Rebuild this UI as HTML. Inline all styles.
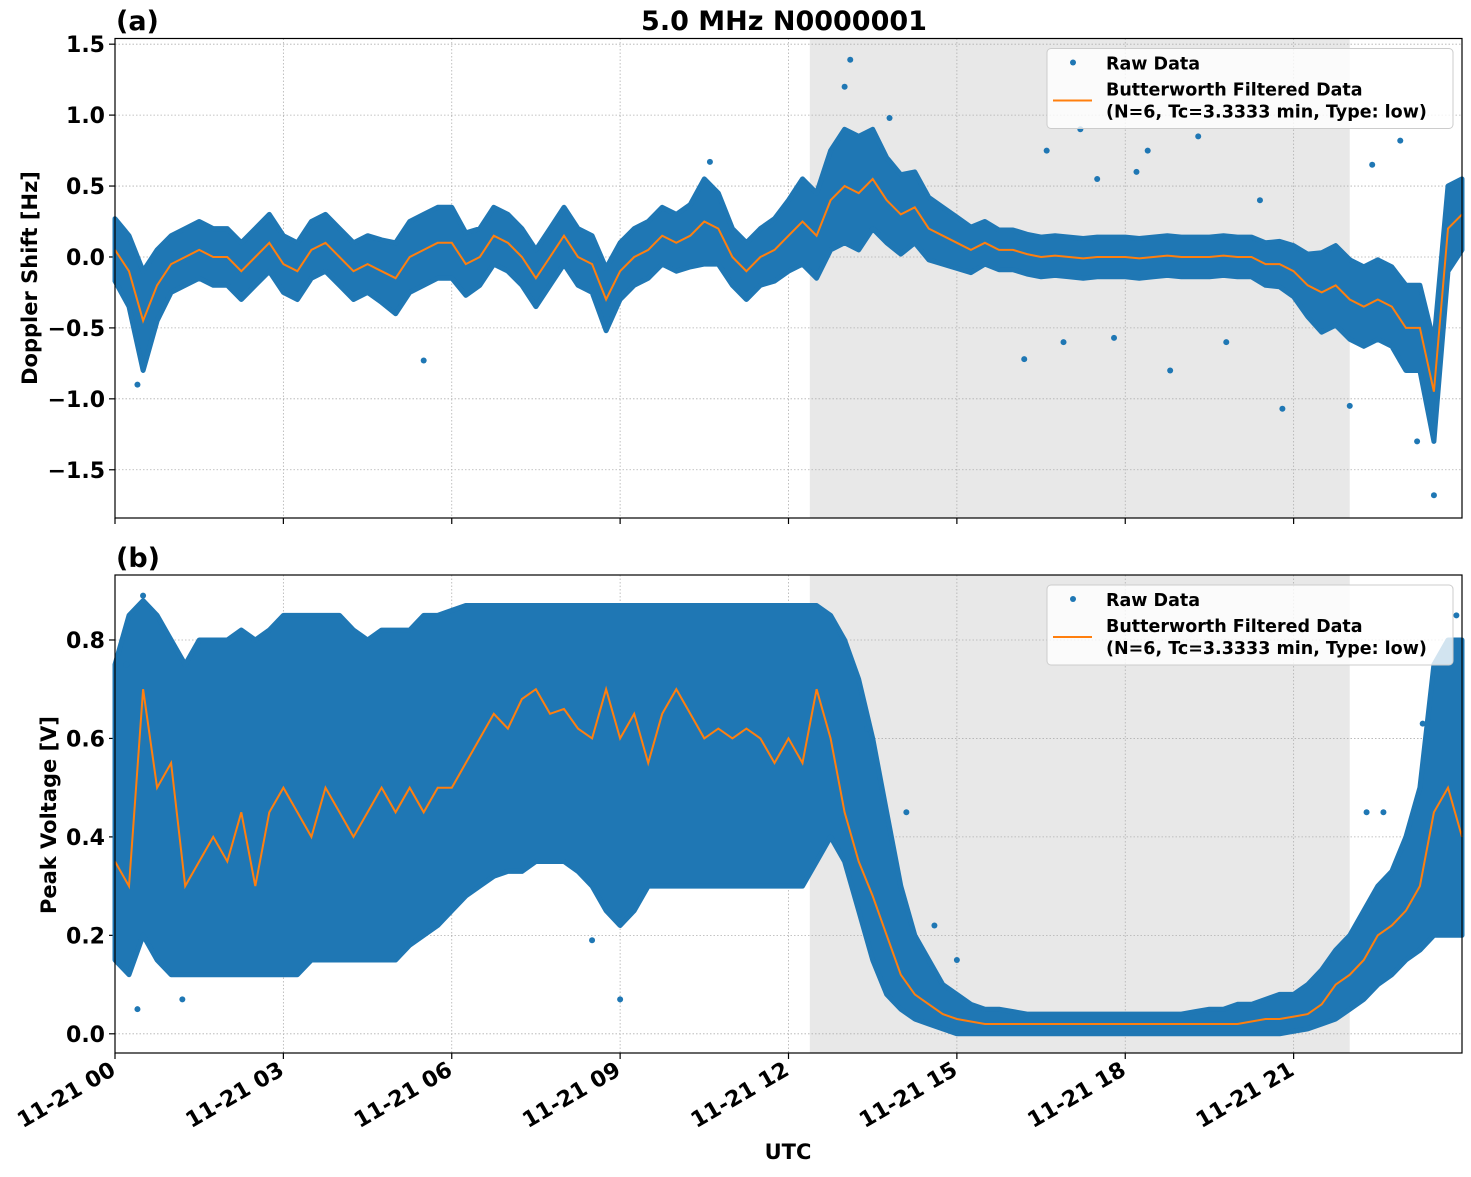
<!DOCTYPE html>
<html><head><meta charset="utf-8">
<style>
body{margin:0;background:#fff;}
svg text{font-family:"DejaVu Sans","Liberation Sans",sans-serif;font-weight:bold;}
</style></head>
<body>
<svg id="chart" width="1471" height="1172" viewBox="0 0 1471 1172" xmlns="http://www.w3.org/2000/svg">
<rect width="1471" height="1172" fill="#fff"/>
</svg>
<script>
// ---- data ----
const xTickHours = [0,3,6,9,12,15,18,21];
const xTickLabels = ["11-21 00","11-21 03","11-21 06","11-21 09","11-21 12","11-21 15","11-21 18","11-21 21"];
const shadeHours = [12.38, 22.0];
const topYTicks = [-1.5,-1.0,-0.5,0.0,0.5,1.0,1.5];
const topYLabels = ["\u22121.5","\u22121.0","\u22120.5","0.0","0.5","1.0","1.5"];
const botYTicks = [0.0,0.2,0.4,0.6,0.8];
const botYLabels = ["0.0","0.2","0.4","0.6","0.8"];
// samples every 0.25 h from 0 to 24
const topFiltered = [0.05,-0.1,-0.45,-0.2,-0.05,0.0,0.05,0.0,0.0,-0.1,0.0,0.1,-0.05,-0.1,0.05,0.1,0.0,-0.1,-0.05,-0.1,-0.15,0.0,0.05,0.1,0.1,-0.05,0.0,0.15,0.1,0.0,-0.15,0.0,0.15,0.0,-0.05,-0.3,-0.1,0.0,0.05,0.15,0.1,0.15,0.25,0.2,0.0,-0.1,0.0,0.05,0.15,0.25,0.15,0.4,0.5,0.45,0.55,0.4,0.3,0.35,0.2,0.15,0.1,0.05,0.1,0.05,0.05,0.02,0.0,0.01,0.0,-0.01,0.0,0.0,0.0,-0.01,0.0,0.01,0.0,0.0,0.0,0.01,0.0,0.0,-0.05,-0.05,-0.1,-0.2,-0.25,-0.2,-0.3,-0.35,-0.3,-0.35,-0.5,-0.5,-0.95,0.2,0.3];
const topSpread = [0.22,0.25,0.35,0.25,0.2,0.2,0.2,0.2,0.2,0.2,0.2,0.2,0.2,0.2,0.2,0.2,0.2,0.2,0.2,0.22,0.25,0.25,0.25,0.25,0.25,0.22,0.2,0.2,0.2,0.2,0.2,0.2,0.2,0.2,0.2,0.22,0.2,0.2,0.2,0.2,0.2,0.22,0.3,0.25,0.2,0.2,0.2,0.22,0.25,0.3,0.3,0.35,0.4,0.4,0.35,0.3,0.28,0.25,0.22,0.2,0.18,0.16,0.15,0.14,0.14,0.14,0.14,0.14,0.14,0.14,0.14,0.14,0.14,0.14,0.14,0.14,0.14,0.14,0.14,0.14,0.14,0.14,0.15,0.16,0.18,0.22,0.28,0.28,0.28,0.28,0.28,0.28,0.3,0.3,0.35,0.3,0.25];
const topOutliers = [[0.4,-0.9],[13.1,1.39],[13.0,1.2],[16.6,0.75],[17.2,0.9],[18.4,0.75],[19.3,0.85],[20.8,-1.07],[22.0,-1.05],[23.5,-1.68],[18.8,-0.8],[16.2,-0.72],[22.4,0.65],[13.8,0.98],[10.6,0.67],[5.5,-0.73],[17.8,-0.57],[19.8,-0.6],[23.2,-1.3],[22.9,0.82],[17.5,0.55],[18.2,0.6],[20.4,0.4],[16.9,-0.6]];
const botFiltered = [0.35,0.3,0.7,0.5,0.55,0.3,0.35,0.4,0.35,0.45,0.3,0.45,0.5,0.45,0.4,0.5,0.45,0.4,0.45,0.5,0.45,0.5,0.45,0.5,0.5,0.55,0.6,0.65,0.62,0.68,0.7,0.65,0.66,0.62,0.6,0.7,0.6,0.65,0.55,0.65,0.7,0.65,0.6,0.62,0.6,0.62,0.6,0.55,0.6,0.55,0.7,0.6,0.45,0.35,0.28,0.2,0.12,0.08,0.06,0.04,0.03,0.025,0.02,0.02,0.02,0.02,0.02,0.02,0.02,0.02,0.02,0.02,0.02,0.02,0.02,0.02,0.02,0.02,0.02,0.02,0.02,0.025,0.03,0.03,0.035,0.04,0.06,0.1,0.12,0.15,0.2,0.22,0.25,0.3,0.45,0.5,0.4];
const botLow = [0.15,0.12,0.2,0.15,0.12,0.12,0.12,0.12,0.12,0.12,0.12,0.12,0.12,0.12,0.15,0.15,0.15,0.15,0.15,0.15,0.15,0.18,0.2,0.22,0.25,0.28,0.3,0.32,0.33,0.33,0.35,0.35,0.35,0.33,0.3,0.25,0.22,0.25,0.3,0.3,0.3,0.3,0.3,0.3,0.3,0.3,0.3,0.3,0.3,0.3,0.35,0.4,0.35,0.25,0.15,0.08,0.05,0.03,0.02,0.01,0.0,0.0,0.0,0.0,0.0,0.0,0.0,0.0,0.0,0.0,0.0,0.0,0.0,0.0,0.0,0.0,0.0,0.0,0.0,0.0,0.0,0.0,0.0,0.0,0.005,0.01,0.02,0.03,0.05,0.07,0.1,0.12,0.15,0.17,0.2,0.2,0.2];
const botHigh = [0.75,0.85,0.88,0.85,0.8,0.75,0.8,0.8,0.8,0.82,0.8,0.82,0.85,0.85,0.85,0.85,0.85,0.82,0.8,0.82,0.82,0.82,0.85,0.85,0.86,0.87,0.87,0.87,0.87,0.87,0.87,0.87,0.87,0.87,0.87,0.87,0.87,0.87,0.87,0.87,0.87,0.87,0.87,0.87,0.87,0.87,0.87,0.87,0.87,0.87,0.87,0.85,0.8,0.72,0.6,0.45,0.3,0.2,0.15,0.1,0.08,0.06,0.05,0.05,0.045,0.04,0.04,0.04,0.04,0.04,0.04,0.04,0.04,0.04,0.04,0.04,0.04,0.045,0.05,0.05,0.06,0.06,0.07,0.08,0.08,0.1,0.13,0.17,0.2,0.25,0.3,0.33,0.4,0.5,0.75,0.8,0.8];
const botOutliers = [[0.4,0.05],[0.5,0.89],[13.4,0.62],[14.1,0.45],[22.3,0.45],[23.3,0.63],[9.0,0.07],[8.5,0.19],[1.2,0.07],[23.9,0.85],[0.2,0.75],[14.6,0.22],[15.0,0.15],[22.6,0.45]];

// ---- layout ----
const NS = "http://www.w3.org/2000/svg";
const svg = document.getElementById('chart');
const X0 = 115, X1 = 1462;
const panels = [
  {top:38.5, bot:518, ymin:-1.84, ymax:1.54, key:'top'},
  {top:575, bot:1053, ymin:-0.039, ymax:0.932, key:'bot'}
];
function xs(h){ return X0 + (X1 - X0) * h / 24; }
function mk(tag, attrs, parent){ const e = document.createElementNS(NS, tag); for (const k in attrs) e.setAttribute(k, attrs[k]); (parent||svg).appendChild(e); return e; }
function ysFor(p){ return v => p.bot - (v - p.ymin) / (p.ymax - p.ymin) * (p.bot - p.top); }

panels.forEach((p, pi) => {
  const ys = ysFor(p);
  const g = mk('g', {});
  
  
  const shade = mk('rect', {x: xs(shadeHours[0]), y: p.top, width: xs(shadeHours[1]) - xs(shadeHours[0]), height: p.bot - p.top, fill: '#e8e8e8'}, g);
  
  
  xTickHours.forEach(h => { const l = mk('line', {x1: xs(h), x2: xs(h), y1: p.top, y2: p.bot, stroke: '#b0b0b0', 'stroke-width': 0.8, 'stroke-dasharray': '1.5,2'}, g);   });
  const yt = pi===0 ? topYTicks : botYTicks, yl = pi===0 ? topYLabels : botYLabels;
  yt.forEach((v, i) => {
    const l = mk('line', {x1: X0, x2: X1, y1: ys(v), y2: ys(v), stroke: '#b0b0b0', 'stroke-width': 0.8, 'stroke-dasharray': '1.5,2'}, g);
     
    mk('line', {x1: X0-6, x2: X0, y1: ys(v), y2: ys(v), stroke: '#000', 'stroke-width': 1.2}, g);
    const t = mk('text', {x: X0-10, y: ys(v)+8, 'text-anchor': 'end', 'font-size': 22}, g);
    t.textContent = yl[i];
     
  });
  let d = '';
  if (pi===0) {
    const up = topFiltered.map((v,i)=>[xs(i*0.25), ys(v + topSpread[i])]);
    const dn = topFiltered.map((v,i)=>[xs(i*0.25), ys(v - topSpread[i])]).reverse();
    d = 'M' + up.concat(dn).map(q=>q[0].toFixed(1)+','+q[1].toFixed(1)).join('L') + 'Z';
  } else {
    const up = botHigh.map((v,i)=>[xs(i*0.25), ys(v)]);
    const dn = botLow.map((v,i)=>[xs(i*0.25), ys(v)]).reverse();
    d = 'M' + up.concat(dn).map(q=>q[0].toFixed(1)+','+q[1].toFixed(1)).join('L') + 'Z';
  }
  const band = mk('path', {d: d, fill: '#1f77b4', stroke: '#1f77b4', 'stroke-width': 5, 'stroke-linejoin': 'round'}, g);
   
  (pi===0 ? topOutliers : botOutliers).forEach(o => {
    const c = mk('circle', {cx: xs(o[0]), cy: ys(o[1]), r: 3, fill: '#1f77b4'}, g);
     
  });
  const fl = pi===0 ? topFiltered : botFiltered;
  const line = mk('polyline', {points: fl.map((v,i)=>xs(i*0.25).toFixed(1)+','+ys(v).toFixed(1)).join(' '), fill: 'none', stroke: '#ff7f0e', 'stroke-width': 2}, g);
   
  mk('rect', {x: X0, y: p.top, width: X1-X0, height: p.bot-p.top, fill: 'none', stroke: '#000', 'stroke-width': 1.2}, g);
  xTickHours.forEach(h => mk('line', {x1: xs(h), x2: xs(h), y1: p.bot, y2: p.bot+6, stroke: '#000', 'stroke-width': 1.2}, g));
  const ly = p.top + 10;
  const leg = mk('g', {}, g);
   
  mk('rect', {x: 1047, y: ly, width: 406, height: 80, rx: 4, fill: '#fff', 'fill-opacity': 0.8, stroke: '#ccc'}, leg);
  mk('circle', {cx: 1073, cy: ly+14, r: 3, fill: '#1f77b4'}, leg);
  mk('line', {x1: 1053, x2: 1092, y1: ly+52, y2: ly+52, stroke: '#ff7f0e', 'stroke-width': 2}, leg);
  const t1 = mk('text', {x: 1106, y: ly+21, 'font-size': 17.5}, leg); t1.textContent = 'Raw Data';
  const t2 = mk('text', {x: 1106, y: ly+47, 'font-size': 17.5}, leg); t2.textContent = 'Butterworth Filtered Data';
  const t3 = mk('text', {x: 1106, y: ly+69, 'font-size': 17.5}, leg); t3.textContent = '(N=6, Tc=3.3333 min, Type: low)';
});

xTickHours.forEach((h,i) => {
  const t = mk('text', {x: 0, y: 0, 'text-anchor': 'end', 'font-size': 22, transform: `translate(${xs(h)+2},${1074}) rotate(-30)`});
  t.textContent = xTickLabels[i];
   
});
const title = mk('text', {x: 784, y: 30, 'text-anchor': 'middle', 'font-size': 27}); title.textContent = '5.0 MHz N0000001';
 
const pa = mk('text', {x: 116, y: 30, 'font-size': 27}); pa.textContent = '(a)';
 
const pb = mk('text', {x: 116, y: 567, 'font-size': 27}); pb.textContent = '(b)';
 
const yt1 = mk('text', {x: 0, y: 0, 'text-anchor': 'middle', 'font-size': 21, transform: 'translate(37,278) rotate(-90)'}); yt1.textContent = 'Doppler Shift [Hz]';
 
const yt2 = mk('text', {x: 0, y: 0, 'text-anchor': 'middle', 'font-size': 21, transform: 'translate(56,815) rotate(-90)'}); yt2.textContent = 'Peak Voltage [V]';
 
const xt = mk('text', {x: 788, y: 1159, 'text-anchor': 'middle', 'font-size': 21}); xt.textContent = 'UTC';
 
</script>
</body></html>
